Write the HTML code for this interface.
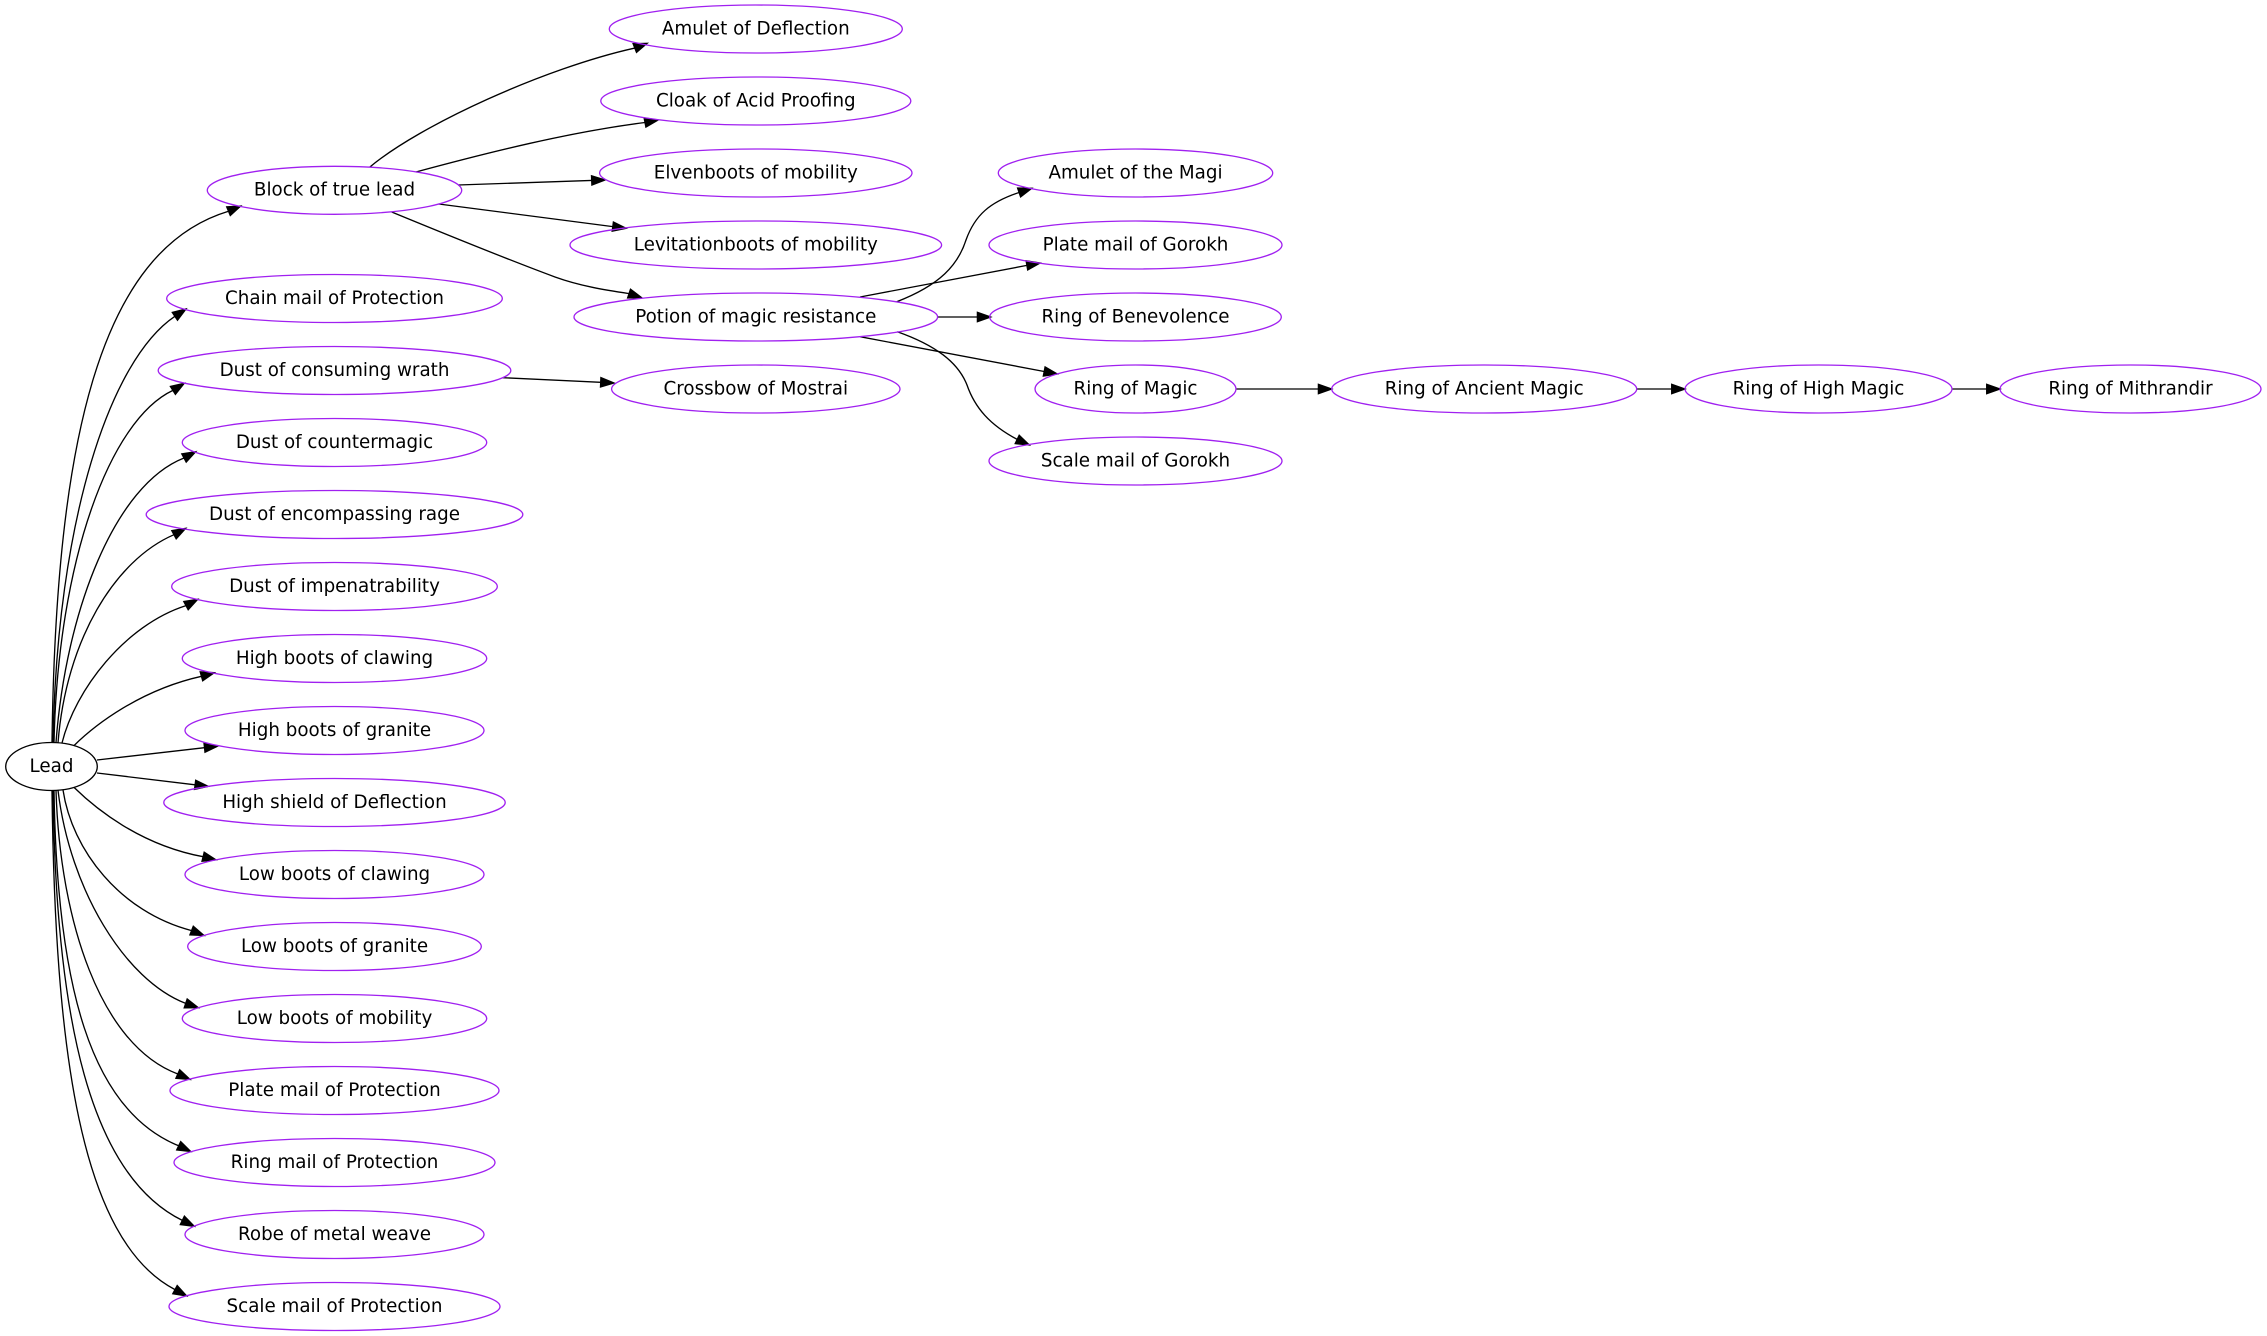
<!DOCTYPE html>
<html>
<head>
<meta charset="utf-8">
<style>
html,body{margin:0;padding:0;background:#ffffff;width:2267px;height:1336px;overflow:hidden}
svg{display:block}
text{font-family:"DejaVu Sans","Liberation Sans",sans-serif;font-size:18.3px;text-anchor:middle;fill:#000}
.n{fill:none;stroke:#a020f0;stroke-width:1.33}
.e{fill:none;stroke:#000;stroke-width:1.33}
.a{fill:#000;stroke:#000;stroke-width:1.33}
</style>
</head>
<body>
<svg width="2267" height="1336" viewBox="0 0 2267 1336" xmlns="http://www.w3.org/2000/svg">
<rect x="0" y="0" width="2267" height="1336" fill="#ffffff"/>

<!-- edges -->
<g class="e">
<path d="M52,742.5 C56,440 100,250 228.5,211.2"/>
<path d="M53,742.5 C57,520 110,360 174.9,316.3"/>
<path d="M54,742.5 C58,560 110,420 172.9,390.4"/>
<path d="M56,742.5 C66,610 115,485 184,458"/>
<path d="M58,743 C66,640 115,560 174,534.7"/>
<path d="M62,743 C75,690 125,625 186,605.6"/>
<path d="M74,745.6 C95,725 140,690 201.5,676.3"/>
<path d="M97,760 L204.5,747.7"/>
<path d="M97,773 L195.1,784.8"/>
<path d="M74,787.4 C95,808 140,845 203.1,856.7"/>
<path d="M63,790 C72,850 120,912 191.6,930.6"/>
<path d="M58,790.3 C70,890 125,980 185.7,1003.4"/>
<path d="M56,790.5 C60,920 100,1045 177.8,1074"/>
<path d="M54,790.5 C57,985 90,1110 178.7,1145.8"/>
<path d="M53,790.5 C56,1020 90,1175 182.3,1220.4"/>
<path d="M52,790.5 C55,1050 80,1240 175,1289.6"/>

<path d="M369.9,167 C420,125 545,68 634.8,48.05"/>
<path d="M415.9,172 C490,152 570,132 645,122.5"/>
<path d="M458,185 L591.7,180.45"/>
<path d="M438.7,204 L612.8,226.6"/>
<path d="M391.7,212 C450,236 520,264 555,277 C580,286 605,290 629.1,293.6"/>
<path d="M502.7,377.7 L600.7,382.3"/>

<path d="M896.7,301.7 C940,285 958,265 966,240 C975,215 990,202 1019.1,192.5"/>
<path d="M860,297 L1026.9,265.4"/>
<path d="M937.7,317 L977.4,317"/>
<path d="M860,336.7 L1044.2,371.5"/>
<path d="M897.3,331.7 C935,345 958,362 967,385 C975,408 990,425 1017.2,439.4"/>
<path d="M1236,389 L1318.4,389"/>
<path d="M1636.7,389 L1671.7,389"/>
<path d="M1952,389 L1986.7,389"/>
</g>

<!-- arrowheads -->
<g class="a">
<polygon points="240.7,206 230.3,215.5 226.7,206.9"/>
<polygon points="186,309 177.5,320.2 172.3,312.4"/>
<polygon points="184.2,383.3 175.4,394.4 170.4,386.4"/>
<polygon points="195.7,451.7 186.2,462.1 181.8,453.9"/>
<polygon points="185.7,528.3 176.2,538.8 171.8,530.6"/>
<polygon points="197.7,599.3 188.2,609.7 183.8,601.5"/>
<polygon points="214.3,672.7 202.7,680.8 200.2,671.8"/>
<polygon points="217.7,746.2 205,752.3 204,743.1"/>
<polygon points="208.3,786.4 194.5,789.4 195.7,780.2"/>
<polygon points="216,859.9 202,861.2 204.2,852.2"/>
<polygon points="204,935.5 189.9,934.9 193.3,926.3"/>
<polygon points="198.3,1007.7 184.2,1007.8 187.2,999"/>
<polygon points="190,1079.4 175.9,1078.3 179.7,1069.7"/>
<polygon points="190.7,1151.5 176.7,1150 180.7,1141.6"/>
<polygon points="194.3,1226.3 180.3,1224.6 184.4,1216.2"/>
<polygon points="186.7,1296 172.8,1293.7 177.2,1285.5"/>
<polygon points="647.2,43.3 636.5,52.4 633.1,43.7"/>
<polygon points="658,120 645.9,127.1 644.1,117.9"/>
<polygon points="605,180 591.9,185.1 591.5,175.8"/>
<polygon points="626,228.3 612.2,231.2 613.4,222"/>
<polygon points="641.7,297.7 627.6,298 630.5,289.2"/>
<polygon points="614,383 600.5,387 600.9,377.6"/>
<polygon points="1031.7,188.3 1020.6,196.9 1017.6,188.1"/>
<polygon points="1040,263 1027.7,270 1026.1,260.8"/>
<polygon points="990.7,317 977.4,321.7 977.4,312.3"/>
<polygon points="1057.3,374 1043.3,376.1 1045.1,366.9"/>
<polygon points="1029.3,445 1015.2,443.6 1019.2,435.2"/>
<polygon points="1331.7,389 1318.4,393.7 1318.4,384.3"/>
<polygon points="1685,389 1671.7,393.7 1671.7,384.3"/>
<polygon points="2000,389 1986.7,393.7 1986.7,384.3"/>
</g>

<!-- nodes -->
<ellipse cx="51.5" cy="766.5" rx="45.8" ry="24" fill="none" stroke="#000" stroke-width="1.33"/>
<text x="51.5" y="771.8">Lead</text>

<g class="n">
<ellipse cx="334.5" cy="190.3" rx="127.2" ry="24"/>
<ellipse cx="334.5" cy="298.5" rx="167.8" ry="24"/>
<ellipse cx="334.5" cy="370.5" rx="176.3" ry="24"/>
<ellipse cx="334.5" cy="442.5" rx="152.2" ry="24"/>
<ellipse cx="334.5" cy="514.5" rx="188.3" ry="24"/>
<ellipse cx="334.5" cy="586.5" rx="162.8" ry="24"/>
<ellipse cx="334.5" cy="658.5" rx="152.2" ry="24"/>
<ellipse cx="334.5" cy="730.5" rx="149.5" ry="24"/>
<ellipse cx="334.5" cy="802.5" rx="170.7" ry="24"/>
<ellipse cx="334.5" cy="874.5" rx="149.5" ry="24"/>
<ellipse cx="334.5" cy="946.5" rx="146.8" ry="24"/>
<ellipse cx="334.5" cy="1018.5" rx="152.2" ry="24"/>
<ellipse cx="334.5" cy="1090.5" rx="164.5" ry="24"/>
<ellipse cx="334.5" cy="1162.5" rx="160.5" ry="24"/>
<ellipse cx="334.5" cy="1234.5" rx="149.5" ry="24"/>
<ellipse cx="334.5" cy="1306.5" rx="165.5" ry="24"/>

<ellipse cx="755.8" cy="29" rx="146.5" ry="24"/>
<ellipse cx="755.8" cy="101" rx="155" ry="24"/>
<ellipse cx="755.8" cy="173" rx="156.2" ry="24"/>
<ellipse cx="755.8" cy="245" rx="185.8" ry="24"/>
<ellipse cx="755.8" cy="317" rx="181.8" ry="24"/>
<ellipse cx="755.8" cy="389" rx="144.2" ry="24"/>

<ellipse cx="1135.5" cy="173" rx="137.2" ry="24"/>
<ellipse cx="1135.5" cy="245" rx="146.5" ry="24"/>
<ellipse cx="1135.5" cy="317" rx="145.8" ry="24"/>
<ellipse cx="1135.5" cy="389" rx="100.5" ry="24"/>
<ellipse cx="1135.5" cy="461" rx="146.5" ry="24"/>

<ellipse cx="1484.2" cy="389" rx="152.5" ry="24"/>
<ellipse cx="1818.5" cy="389" rx="133.5" ry="24"/>
<ellipse cx="2130.5" cy="389" rx="130.5" ry="24"/>
</g>

<text x="334.5" y="195.6">Block of true lead</text>
<text x="334.5" y="303.8">Chain mail of Protection</text>
<text x="334.5" y="375.8">Dust of consuming wrath</text>
<text x="334.5" y="447.8">Dust of countermagic</text>
<text x="334.5" y="519.8">Dust of encompassing rage</text>
<text x="334.5" y="591.8">Dust of impenatrability</text>
<text x="334.5" y="663.8">High boots of clawing</text>
<text x="334.5" y="735.8">High boots of granite</text>
<text x="334.5" y="807.8">High shield of Deflection</text>
<text x="334.5" y="879.8">Low boots of clawing</text>
<text x="334.5" y="951.8">Low boots of granite</text>
<text x="334.5" y="1023.8">Low boots of mobility</text>
<text x="334.5" y="1095.8">Plate mail of Protection</text>
<text x="334.5" y="1167.8">Ring mail of Protection</text>
<text x="334.5" y="1239.8">Robe of metal weave</text>
<text x="334.5" y="1311.8">Scale mail of Protection</text>

<text x="755.8" y="34.3">Amulet of Deflection</text>
<text x="755.8" y="106.3">Cloak of Acid Proofing</text>
<text x="755.8" y="178.3">Elvenboots of mobility</text>
<text x="755.8" y="250.3">Levitationboots of mobility</text>
<text x="755.8" y="322.3">Potion of magic resistance</text>
<text x="755.8" y="394.3">Crossbow of Mostrai</text>

<text x="1135.5" y="178.3">Amulet of the Magi</text>
<text x="1135.5" y="250.3">Plate mail of Gorokh</text>
<text x="1135.5" y="322.3">Ring of Benevolence</text>
<text x="1135.5" y="394.3">Ring of Magic</text>
<text x="1135.5" y="466.3">Scale mail of Gorokh</text>

<text x="1484.2" y="394.3">Ring of Ancient Magic</text>
<text x="1818.5" y="394.3">Ring of High Magic</text>
<text x="2130.5" y="394.3">Ring of Mithrandir</text>
</svg>
</body>
</html>
